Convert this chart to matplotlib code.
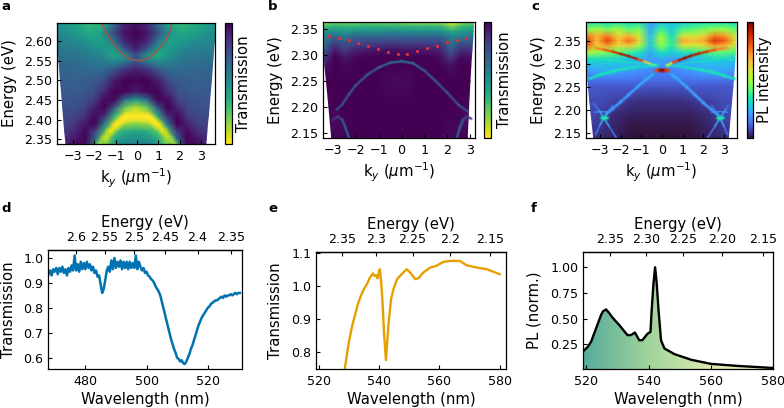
import numpy as np
import matplotlib
matplotlib.use('Agg')
import matplotlib.pyplot as plt
from matplotlib.collections import LineCollection
from matplotlib.colors import LinearSegmentedColormap
from matplotlib.patches import Polygon

W, H = 784, 408

# --- panel a: transmission map ---
a_E = [2.645, 2.62, 2.60, 2.58, 2.565, 2.55, 2.53, 2.50, 2.47, 2.45, 2.43, 2.41, 2.39, 2.37, 2.35, 2.338]
a_kl = [-3.84, -3.80, -3.75, -3.71, -3.69, -3.66, -3.63, -3.59, -3.54, -3.51, -3.48, -3.45, -3.42, -3.39, -3.35, -3.33]
a_kr = [3.70, 3.66, 3.64, 3.60, 3.58, 3.56, 3.53, 3.49, 3.44, 3.41, 3.38, 3.35, 3.31, 3.28, 3.25, 3.23]
a_map = [
    [.50, .45, .40, .33, .35, .62, .88, .95, .88, .62, .40, .33, .38, .42, .48],
    [.55, .50, .45, .38, .45, .75, .95, 1.0, .95, .75, .50, .40, .42, .48, .52],
    [.58, .55, .52, .45, .42, .60, .90, .97, .90, .60, .42, .45, .50, .52, .55],
    [.60, .58, .56, .53, .48, .45, .75, .92, .75, .45, .45, .53, .56, .58, .58],
    [.62, .62, .60, .57, .52, .40, .50, .80, .50, .38, .48, .57, .60, .60, .60],
    [.66, .65, .63, .60, .58, .52, .55, .72, .55, .50, .55, .60, .62, .64, .64],
    [.68, .67, .66, .65, .65, .70, .84, .90, .84, .70, .65, .65, .66, .67, .68],
    [.70, .70, .70, .71, .76, .93, 1.0, 1.0, 1.0, .92, .77, .71, .70, .70, .70],
    [.72, .72, .72, .75, .88, 1.0, .98, .92, .98, 1.0, .88, .75, .72, .72, .72],
    [.74, .74, .75, .82, .98, .98, .62, .45, .62, .98, .98, .80, .75, .74, .74],
    [.76, .76, .79, .92, 1.0, .70, .22, .10, .22, .70, 1.0, .90, .78, .76, .76],
    [.78, .79, .84, .98, .88, .35, .03, .00, .03, .35, .88, .98, .82, .78, .78],
    [.80, .83, .94, 1.0, .58, .14, .14, .18, .14, .14, .58, 1.0, .92, .80, .80],
    [.84, .88, .98, .82, .30, .28, .38, .40, .38, .28, .30, .82, .98, .88, .84],
    [.88, .95, 1.0, .62, .20, .42, .50, .52, .50, .42, .20, .62, 1.0, .95, .88],
    [.90, .98, .96, .50, .22, .50, .54, .55, .54, .50, .22, .50, .96, .98, .90],
]
a_fit_k = [-1.65, -1.4, -1.2, -1.0, -0.8, -0.6, -0.4, -0.2, 0.1, 0.3, 0.5, 0.7, 0.9, 1.1, 1.3, 1.5, 1.65]
a_fit_E = [2.645, 2.619, 2.601, 2.586, 2.573, 2.564, 2.557, 2.552, 2.55, 2.552, 2.556, 2.563, 2.572, 2.584, 2.598, 2.617, 2.645]
a_ridge_k = [-1.75, -1.5, -1.25, -1.0, -0.75, -0.5, 0.5, 0.75, 1.0, 1.25, 1.5, 1.75]
a_ridge_E = [2.338, 2.352, 2.370, 2.385, 2.397, 2.407, 2.407, 2.397, 2.385, 2.370, 2.352, 2.338]
a_ridge_v = [.2, .12, .06, .03, .0, .0, .0, .0, .03, .06, .12, .2]

# --- panel b: transmission map ---
b_E = [2.363, 2.355, 2.345, 2.335, 2.325, 2.31, 2.295, 2.28, 2.25, 2.20, 2.17, 2.141]
b_kl = [-3.44, -3.44, -3.44, -3.44, -3.42, -3.40, -3.38, -3.36, -3.29, -3.18, -3.12, -3.06]
b_kr = [3.15, 3.15, 3.14, 3.13, 3.11, 3.09, 3.06, 3.04, 3.00, 2.94, 2.91, 2.88]
b_map = [
    [.12, .20, .18, .20, .22, .20, .20, .20, .15, .12, .12, .12, .02, .15, .20],
    [.30, .35, .33, .33, .35, .35, .35, .33, .33, .33, .33, .33, .18, .33, .35],
    [.50, .50, .45, .50, .50, .50, .52, .52, .50, .50, .50, .48, .40, .45, .50],
    [.55, .68, .62, .68, .68, .68, .68, .68, .68, .68, .68, .68, .55, .60, .62],
    [.60, .78, .72, .76, .78, .78, .80, .80, .78, .78, .78, .78, .60, .72, .72],
    [.70, .92, .82, .90, .92, .94, .95, .95, .94, .94, .92, .90, .72, .88, .85],
    [.85, 1.0, .94, .98, 1.0, 1.0, 1.0, 1.0, 1.0, 1.0, 1.0, .98, .84, .97, .95],
    [.95, 1.0, .98, 1.0, 1.0, 1.0, 1.0, 1.0, 1.0, 1.0, 1.0, 1.0, .96, 1.0, 1.0],
    [1.0, 1.0, 1.0, 1.0, 1.0, 1.0, .98, .97, .98, 1.0, 1.0, 1.0, 1.0, 1.0, 1.0],
    [.99, 1.0, 1.0, 1.0, 1.0, 1.0, 1.0, 1.0, 1.0, 1.0, 1.0, 1.0, 1.0, 1.0, .98],
    [.97, .98, 1.0, 1.0, 1.0, 1.0, 1.0, 1.0, 1.0, 1.0, 1.0, 1.0, .99, .98, .96],
    [.98, 1.0, 1.0, 1.0, 1.0, 1.0, 1.0, 1.0, 1.0, 1.0, 1.0, 1.0, .97, 1.0, 1.0],
]
b_fit_k = [-3.18, -2.75, -2.32, -1.89, -1.46, -1.03, -0.60, -0.17, 0.26, 0.69, 1.12, 1.55, 1.98, 2.41, 2.84]
b_fit_E = [2.337, 2.332, 2.328, 2.323, 2.317, 2.312, 2.306, 2.302, 2.302, 2.307, 2.313, 2.318, 2.324, 2.329, 2.333]
b_arch_k = [-2.85, -2.6, -2.3, -2.0, -1.5, -1.0, -0.5, 0.0, 0.5, 1.0, 1.5, 2.0, 2.5, 2.9]
b_arch_E = [2.195, 2.205, 2.225, 2.242, 2.262, 2.276, 2.285, 2.288, 2.284, 2.270, 2.250, 2.228, 2.204, 2.192]
b_arch_v = [.78, .76, .74, .74, .74, .72, .68, .62, .68, .72, .74, .74, .74, .76]
b_lobe_l_k = [-3.0, -2.8, -2.6, -2.45, -2.3]
b_lobe_l_E = [2.176, 2.182, 2.176, 2.16, 2.141]
b_lobe_r_k = [2.42, 2.55, 2.7, 2.85, 3.05]
b_lobe_r_E = [2.141, 2.16, 2.176, 2.182, 2.178]
b_lobe_v = [.72, .66, .76, .84, .88]

# --- panel c: PL map ---
c_E = [2.391, 2.375, 2.36, 2.35, 2.34, 2.325, 2.31, 2.295, 2.28, 2.265, 2.25, 2.22, 2.19, 2.17, 2.14]
c_kl = [-3.67, -3.67, -3.67, -3.67, -3.66, -3.65, -3.64, -3.62, -3.60, -3.58, -3.55, -3.49, -3.42, -3.37, -3.30]
c_kr = [3.58, 3.58, 3.57, 3.56, 3.55, 3.54, 3.52, 3.50, 3.47, 3.45, 3.42, 3.36, 3.30, 3.26, 3.20]
c_map = [
    [.30, .33, .30, .33, .30, .32, .20, .27, .25, .27, .30, .32, .32, .33, .30],
    [.45, .50, .45, .50, .42, .45, .22, .38, .28, .40, .42, .45, .48, .48, .42],
    [.78, .68, .76, .62, .68, .55, .25, .50, .32, .58, .58, .62, .76, .72, .55],
    [.85, .66, .84, .66, .78, .60, .28, .52, .35, .70, .66, .70, .87, .80, .60],
    [.80, .64, .72, .60, .64, .50, .27, .48, .35, .58, .56, .60, .72, .68, .55],
    [.52, .48, .45, .42, .38, .33, .22, .33, .28, .33, .35, .38, .42, .42, .40],
    [.30, .30, .30, .28, .26, .24, .20, .22, .20, .22, .24, .26, .28, .28, .25],
    [.24, .25, .25, .25, .24, .22, .20, .18, .18, .20, .22, .24, .24, .24, .22],
    [.18, .20, .22, .20, .18, .17, .16, .16, .16, .17, .18, .20, .21, .20, .18],
    [.13, .14, .14, .14, .14, .13, .13, .13, .13, .13, .14, .14, .14, .14, .13],
    [.10, .10, .10, .10, .10, .09, .09, .09, .09, .09, .10, .10, .10, .10, .10],
    [.08, .08, .07, .06, .05, .04, .04, .04, .04, .04, .05, .06, .07, .08, .08],
    [.08, .06, .04, .03, .02, .02, .02, .02, .02, .02, .02, .03, .04, .06, .08],
    [.06, .05, .03, .02, .01, .01, .01, .01, .01, .01, .01, .02, .03, .05, .06],
    [.05, .03, .02, .01, .00, .00, .00, .00, .00, .00, .00, .01, .02, .03, .05],
]
c_up_l_k = [-3.2, -2.8, -2.4, -2.0, -1.6, -1.2, -0.9, -0.6, -0.3]
c_up_l_E = [2.335, 2.331, 2.327, 2.322, 2.317, 2.311, 2.306, 2.301, 2.297]
c_up_l_v = [.72, .78, .85, .92, .97, .9, .75, .5, .32]
c_up_r_k = [0.25, 0.5, 0.8, 1.1, 1.4, 1.8, 2.2, 2.6, 3.1]
c_up_r_E = [2.297, 2.303, 2.308, 2.313, 2.318, 2.323, 2.327, 2.331, 2.335]
c_up_r_v = [.35, .75, .92, .98, .95, .9, .85, .78, .7]
c_mid_l_k = [-3.5, -3.0, -2.4, -1.8, -1.2, -0.6, -0.2]
c_mid_l_E = [2.268, 2.277, 2.284, 2.290, 2.294, 2.296, 2.297]
c_mid_r_k = [0.2, 0.6, 1.2, 1.8, 2.4, 3.0, 3.5]
c_mid_r_E = [2.297, 2.296, 2.293, 2.288, 2.283, 2.275, 2.268]
c_mid_v = [.30, .33, .34, .33, .31, .29, .27]
c_top_l_k = [-3.5, -2.8, -2.0, -1.4, -0.8]
c_top_l_E = [2.308, 2.310, 2.306, 2.303, 2.300]
c_top_r_k = [0.8, 1.4, 2.0, 2.8, 3.5]
c_top_r_E = [2.300, 2.304, 2.306, 2.312, 2.308]
c_top_v = [.32, .35, .33, .31, .29]
c_arch_l_k = [-0.45, -0.8, -1.2, -1.6, -2.0, -2.4, -2.7]
c_arch_l_E = [2.278, 2.266, 2.250, 2.234, 2.218, 2.203, 2.192]
c_arch_r_k = [0.45, 0.8, 1.2, 1.6, 2.0, 2.4, 2.7]
c_arch_r_E = [2.278, 2.266, 2.250, 2.233, 2.216, 2.201, 2.190]
c_arch_v = [.25, .22, .21, .20, .20, .20, .22]
c_peak_k = [-0.3, -0.15, 0.0, 0.15, 0.3]
c_peak_E = [2.286, 2.287, 2.287, 2.287, 2.286]
c_peak_v = [.72, .95, 1.0, .95, .72]
c_x_a_k = [-3.3, -3.05, -2.8, -2.55, -2.2]
c_x_a_E = [2.215, 2.20, 2.183, 2.165, 2.14]
c_x_b_k = [-3.2, -3.0, -2.8, -2.6, -2.4]
c_x_b_E = [2.148, 2.168, 2.183, 2.197, 2.21]
c_x_c_k = [2.2, 2.55, 2.8, 3.05, 3.2]
c_x_c_E = [2.14, 2.165, 2.183, 2.20, 2.21]
c_x_d_k = [2.4, 2.6, 2.8, 3.0, 3.15]
c_x_d_E = [2.21, 2.197, 2.183, 2.165, 2.148]
c_x_v = [.12, .16, .30, .16, .12]
c_spot_l_k = [-2.92, -2.8, -2.68]
c_spot_r_k = [2.68, 2.8, 2.92]
c_spot_E = [2.183, 2.183, 2.183]
c_spot_v = [.30, .38, .30]
c_flat_l_k = [-3.25, -2.9, -2.5]
c_flat_r_k = [2.4, 2.8, 3.15]
c_flat_E = [2.196, 2.197, 2.196]
c_flat_v = [.16, .22, .16]

# --- panel d: transmission, 0.5 nm steps from 468 nm ---
d_T = [
    .935, .95, .93, .955, .945, .96, .935, .96, .945, .965,
    .94, .955, .93, .96, .945, .97, .95, 1.01, .95, .975,
    .945, .985, .955, .98, .955, .985, .96, .975, .95, .965,
    .94, .95, .925, .93, .895, .86, .875, .91, .95, .965,
    .945, .99, .955, 1.0, .96, .985, .965, .99, .955, .985,
    .96, .985, .955, .985, .96, .98, .96, 1.01, .955, .985,
    .965, .95, .96, .94, .945, .93, .925, .915, .91, .90,
    .885, .875, .865, .85, .825, .80, .775, .75, .725, .70,
    .675, .655, .635, .62, .60, .595, .585, .59, .578, .575,
    .585, .60, .615, .635, .65, .67, .69, .71, .73, .745,
    .76, .77, .78, .79, .80, .805, .815, .82, .825, .83,
    .83, .835, .84, .845, .84, .85, .845, .85, .85, .855,
    .85, .855, .86, .855, .86, .86,
]
d_start = 468.0
d_step = 0.5

# --- panel e: transmission ---
e_nm = [528.5, 529, 530, 531, 532, 533, 534, 535, 536, 537, 538, 538.5, 539, 539.5, 540, 540.3,
        540.7, 541.1, 541.7, 542.3, 543.1, 544, 544.8, 546, 547.5, 549.2, 550.3, 552, 553, 554.7,
        557, 559, 561.3, 563.5, 566.8, 569, 572.4, 575.7, 580]
e_T = [.74, .77, .83, .875, .91, .945, .97, .99, 1.005, 1.025, 1.037, 1.03, 1.032, 1.022, 1.045, 1.05,
       1.01, .96, .85, .775, .88, .96, .99, 1.02, 1.035, 1.05, 1.04, 1.02, 1.022, 1.04,
       1.055, 1.06, 1.072, 1.075, 1.075, 1.062, 1.055, 1.05, 1.035]

# --- panel f: PL spectrum ---
f_nm = [519.2, 520.4, 521.5, 523.1, 524.7, 525.3, 526.3, 527.2, 528.4, 530.5, 533.2, 534.3, 535.6, 537,
        538, 539.7, 540.6, 541, 541.6, 542.1, 542.6, 543.2, 544, 545.1, 548.3, 553.7, 560, 568.6, 580]
f_PL = [.19, .225, .275, .405, .535, .57, .59, .56, .51, .44, .34, .34, .365, .29,
        .29, .355, .37, .585, .85, 1.0, .85, .585, .29, .21, .155, .10, .06, .04, .02]
f_fill_colors = ['#57ac9b', '#9fd39b', '#dcebb0', '#eef3c4']

panel_letters = ['a', 'b', 'c', 'd', 'e', 'f']
letter_x = [1, 268, 531, 1, 268, 531]
letter_y = [7, 7, 7, 209, 209, 209]

d_color = '#0072B2'
e_color = '#E69F00'

plt.rcParams.update({
    'font.family': 'DejaVu Sans',
    'font.size': 9.1,
    'axes.labelsize': 10.7,
    'axes.linewidth': 0.9,
    'xtick.direction': 'in',
    'ytick.direction': 'in',
    'xtick.major.size': 3,
    'ytick.major.size': 3,
    'xtick.major.pad': 4,
    'ytick.major.pad': 3.5,
})

fig = plt.figure(figsize=(W / 100, H / 100), dpi=100)


def box(x0, y0, x1, y1):
    return [x0 / W, 1 - y1 / H, (x1 - x0) / W, (y1 - y0) / H]


def draw_map(ax, E, kl, kr, z, cmap):
    # each row of the map spans its own k range, which gives the tilted edges
    z = np.array(z)
    frac = np.linspace(0, 1, z.shape[1])
    kl = np.array(kl)
    kr = np.array(kr)
    K = kl[:, None] + frac[None, :] * (kr - kl)[:, None]
    EE = np.repeat(np.array(E)[:, None], z.shape[1], axis=1)
    return ax.pcolormesh(K, EE, z, shading='gouraud', cmap=cmap, vmin=0, vmax=1)


def draw_band(ax, k, E, v, cmap, lw=1.0):
    pts = np.column_stack([k, E]).reshape(-1, 1, 2)
    segs = np.concatenate([pts[:-1], pts[1:]], axis=1)
    vals = (np.array(v)[:-1] + np.array(v)[1:]) / 2
    for scale, alpha in [(3.0, .2), (1.9, .4), (1.0, .9)]:
        lc = LineCollection(segs, cmap=cmap, norm=plt.Normalize(0, 1), linewidths=lw * scale,
                            alpha=alpha, capstyle='round')
        lc.set_array(vals)
        ax.add_collection(lc)


def finish_map(ax, mesh, cax, xlim, ylim, yticks, cb_label, ypad, cbpad):
    ax.set_xlim(*xlim)
    ax.set_ylim(*ylim)
    ax.set_xticks([-3, -2, -1, 0, 1, 2, 3])
    ax.set_yticks(yticks)
    ax.set_yticklabels(['%.2f' % t for t in yticks])
    ax.set_xlabel(r'k$_y$ ($\mu$m$^{-1}$)', labelpad=3)
    ax.set_ylabel('Energy (eV)', labelpad=ypad)
    cb = fig.colorbar(mesh, cax=cax)
    cb.set_ticks([])
    cb.set_label(cb_label, fontsize=10.7, labelpad=cbpad)


def energy_axis(ax, ticks, labels):
    top = ax.secondary_xaxis('top', functions=(lambda x: 1240 / x, lambda x: 1240 / x))
    top.set_xticks(ticks)
    top.set_xticklabels(labels)
    top.minorticks_off()
    top.set_xlabel('Energy (eV)', labelpad=3)


# panel a
ax_a = fig.add_axes(box(57, 23, 215, 144))
cax_a = fig.add_axes(box(225, 23, 232, 144))
m_a = draw_map(ax_a, a_E, a_kl, a_kr, a_map, 'viridis_r')
draw_band(ax_a, a_ridge_k, a_ridge_E, a_ridge_v, 'viridis_r', lw=2.6)
ax_a.plot(a_fit_k, a_fit_E, color='#a8523f', lw=1.0)
finish_map(ax_a, m_a, cax_a, (-3.75, 3.66), (2.338, 2.646), [2.35, 2.40, 2.45, 2.50, 2.55, 2.60], 'Transmission', 5, 3)

# panel b
ax_b = fig.add_axes(box(323, 22, 475, 138))
cax_b = fig.add_axes(box(484, 22, 491, 138))
m_b = draw_map(ax_b, b_E, b_kl, b_kr, b_map, 'viridis_r')
draw_band(ax_b, b_arch_k, b_arch_E, b_arch_v, 'viridis_r', lw=1.0)
draw_band(ax_b, b_lobe_l_k, b_lobe_l_E, b_lobe_v[::-1], 'viridis_r', lw=1.0)
draw_band(ax_b, b_lobe_r_k, b_lobe_r_E, b_lobe_v, 'viridis_r', lw=1.0)
ax_b.plot(b_fit_k, b_fit_E, ls='none', marker='o', ms=1.3, color='#d8343c')
finish_map(ax_b, m_b, cax_b, (-3.44, 3.22), (2.141, 2.363), [2.15, 2.20, 2.25, 2.30, 2.35], 'Transmission', 5, 4)

# panel c
ax_c = fig.add_axes(box(586, 22, 737, 138))
cax_c = fig.add_axes(box(747, 22, 753, 138))
m_c = draw_map(ax_c, c_E, c_kl, c_kr, c_map, 'turbo')
draw_band(ax_c, c_top_l_k, c_top_l_E, c_top_v, 'turbo', lw=0.7)
draw_band(ax_c, c_top_r_k, c_top_r_E, c_top_v[::-1], 'turbo', lw=0.7)
draw_band(ax_c, c_mid_l_k, c_mid_l_E, c_mid_v, 'turbo', lw=1.2)
draw_band(ax_c, c_mid_r_k, c_mid_r_E, c_mid_v[::-1], 'turbo', lw=1.2)
draw_band(ax_c, c_up_l_k, c_up_l_E, c_up_l_v, 'turbo', lw=0.9)
draw_band(ax_c, c_up_r_k, c_up_r_E, c_up_r_v, 'turbo', lw=1.0)
draw_band(ax_c, c_arch_l_k, c_arch_l_E, c_arch_v, 'turbo', lw=1.2)
draw_band(ax_c, c_arch_r_k, c_arch_r_E, c_arch_v, 'turbo', lw=1.2)
draw_band(ax_c, c_x_a_k, c_x_a_E, c_x_v, 'turbo', lw=0.7)
draw_band(ax_c, c_x_b_k, c_x_b_E, c_x_v, 'turbo', lw=0.7)
draw_band(ax_c, c_x_c_k, c_x_c_E, c_x_v, 'turbo', lw=0.7)
draw_band(ax_c, c_x_d_k, c_x_d_E, c_x_v, 'turbo', lw=0.7)
draw_band(ax_c, c_flat_l_k, c_flat_E, c_flat_v, 'turbo', lw=0.5)
draw_band(ax_c, c_flat_r_k, c_flat_E, c_flat_v, 'turbo', lw=0.5)
draw_band(ax_c, c_spot_l_k, c_spot_E, c_spot_v, 'turbo', lw=1.4)
draw_band(ax_c, c_spot_r_k, c_spot_E, c_spot_v, 'turbo', lw=1.4)
draw_band(ax_c, c_peak_k, c_peak_E, c_peak_v, 'turbo', lw=1.3)
finish_map(ax_c, m_c, cax_c, (-3.67, 3.62), (2.14, 2.391), [2.15, 2.20, 2.25, 2.30, 2.35], 'PL intensity', 5, 3)

# panel d
ax_d = fig.add_axes(box(48, 250, 242, 369))
d_nm = d_start + d_step * np.arange(len(d_T))
ax_d.plot(d_nm, d_T, color=d_color, lw=1.8)
ax_d.set_xlim(467.8, 531.2)
ax_d.set_ylim(0.555, 1.032)
ax_d.set_xticks([480, 500, 520])
ax_d.set_yticks([0.6, 0.7, 0.8, 0.9, 1.0])
ax_d.set_xlabel('Wavelength (nm)', labelpad=3)
ax_d.set_ylabel('Transmission', labelpad=5)
energy_axis(ax_d, [2.6, 2.55, 2.5, 2.45, 2.4, 2.35], ['2.6', '2.55', '2.5', '2.45', '2.4', '2.35'])

# panel e
ax_e = fig.add_axes(box(316, 252, 506, 369))
ax_e.plot(e_nm, e_T, color=e_color, lw=1.7)
ax_e.set_xlim(519.1, 582.1)
ax_e.set_ylim(0.748, 1.102)
ax_e.set_xticks([520, 540, 560, 580])
ax_e.set_yticks([0.8, 0.9, 1.0, 1.1])
ax_e.set_xlabel('Wavelength (nm)', labelpad=3)
ax_e.set_ylabel('Transmission', labelpad=5.5)
energy_axis(ax_e, [2.35, 2.3, 2.25, 2.2, 2.15], ['2.35', '2.3', '2.25', '2.2', '2.15'])

# panel f, with a colour gradient under the spectrum
ax_f = fig.add_axes(box(583, 252, 773, 369))
grad_cmap = LinearSegmentedColormap.from_list('pl_fill', f_fill_colors)
grad = ax_f.imshow(np.linspace(0, 1, 256)[None, :], extent=(519.2, 580, 0, 1.15), aspect='auto', cmap=grad_cmap)
clip = Polygon(list(zip(f_nm, f_PL)) + [(f_nm[-1], 0), (f_nm[0], 0)], transform=ax_f.transData, fc='none', ec='none')
ax_f.add_patch(clip)
grad.set_clip_path(clip)
ax_f.plot(f_nm, f_PL, color='black', lw=1.7)
ax_f.set_xlim(518.9, 580.03)
ax_f.set_ylim(0.01, 1.149)
ax_f.set_xticks([520, 540, 560, 580])
ax_f.set_yticks([0.25, 0.5, 0.75, 1.0])
ax_f.set_yticklabels(['0.25', '0.50', '0.75', '1.00'])
ax_f.set_xlabel('Wavelength (nm)', labelpad=3)
ax_f.set_ylabel('PL (norm.)', labelpad=6.5)
energy_axis(ax_f, [2.35, 2.30, 2.25, 2.20, 2.15], ['2.35', '2.30', '2.25', '2.20', '2.15'])

for letter, x, y in zip(panel_letters, letter_x, letter_y):
    fig.text(x / W, 1 - y / H, letter, fontsize=9.5, fontweight='bold', va='center', ha='left')

fig.savefig('out.png', dpi=100)
